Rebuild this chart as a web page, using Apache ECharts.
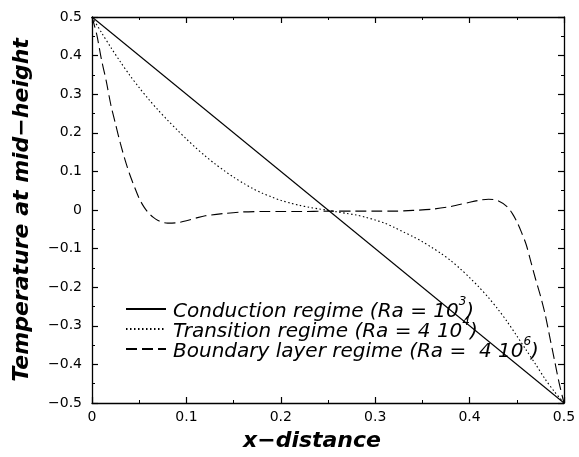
<!DOCTYPE html>
<html>
<head>
<meta charset="utf-8">
<script src="https://cdn.jsdelivr.net/npm/echarts@6/dist/echarts.min.js"></script>
<style>
html,body{margin:0;padding:0;background:#fff;}
#chart{width:579px;height:457px;}
</style>
</head>
<body>
<div id="chart"></div>
<script>
const seriesNames = [
  'Conduction regime (Ra = 10^3)',
  'Transition regime (Ra = 4 10^4)',
  'Boundary layer regime (Ra =  4 10^6)'
];
const legendRich = [
  '{m|Conduction regime (Ra = 10}{sup|3}{m|)}',
  '{m|Transition regime (Ra = 4 10}{sup|4}{m|)}',
  '{m|Boundary layer regime (Ra =  4 10}{sup|6}{m|)}'
];
const conductionX = [0, 0.5];
const conductionY = [0.5, -0.5];

const transitionX = [0, 0.01, 0.02, 0.03, 0.04, 0.05, 0.06, 0.07, 0.08, 0.09, 0.1, 0.11, 0.12, 0.13, 0.14, 0.15, 0.16, 0.17, 0.18, 0.19, 0.2, 0.21, 0.22, 0.23, 0.24, 0.25, 0.26, 0.27, 0.28, 0.29, 0.3, 0.31, 0.32, 0.33, 0.34, 0.35, 0.36, 0.37, 0.38, 0.39, 0.4, 0.41, 0.42, 0.43, 0.44, 0.45, 0.46, 0.47, 0.48, 0.49, 0.5];
const transitionY = [0.5, 0.46, 0.421, 0.384, 0.349, 0.317, 0.287, 0.259, 0.233, 0.208, 0.184, 0.161, 0.14, 0.12, 0.102, 0.085, 0.07, 0.056, 0.044, 0.034, 0.025, 0.018, 0.012, 0.007, 0.003, -0.001, -0.005, -0.009, -0.013, -0.019, -0.026, -0.034, -0.045, -0.057, -0.069, -0.082, -0.097, -0.113, -0.131, -0.152, -0.175, -0.2, -0.227, -0.257, -0.29, -0.326, -0.363, -0.4, -0.438, -0.471, -0.5];

const boundaryX = [0, 0.005, 0.01, 0.015, 0.02, 0.025, 0.03, 0.035, 0.04, 0.045, 0.05, 0.055, 0.06, 0.065, 0.07, 0.075, 0.08, 0.09, 0.1, 0.11, 0.12, 0.14, 0.16, 0.18, 0.2, 0.22, 0.25, 0.28, 0.3, 0.32, 0.34, 0.36, 0.38, 0.4, 0.41, 0.42, 0.43, 0.44, 0.445, 0.45, 0.455, 0.46, 0.465, 0.47, 0.475, 0.48, 0.485, 0.49, 0.495, 0.5];
const boundaryY = [0.5, 0.455, 0.39, 0.335, 0.272, 0.222, 0.173, 0.13, 0.092, 0.06, 0.03, 0.008, -0.008, -0.019, -0.027, -0.032, -0.034, -0.033, -0.028, -0.021, -0.015, -0.009, -0.005, -0.004, -0.004, -0.004, -0.003, -0.003, -0.003, -0.003, -0.001, 0.002, 0.009, 0.02, 0.025, 0.028, 0.024, 0.008, -0.008, -0.03, -0.058, -0.09, -0.135, -0.18, -0.222, -0.27, -0.33, -0.39, -0.45, -0.5];

const xTicks = [0, 0.1, 0.2, 0.3, 0.4, 0.5];
const yTicks = [-0.5, -0.4, -0.3, -0.2, -0.1, 0, 0.1, 0.2, 0.3, 0.4, 0.5];

function zip(xs, ys) { return xs.map((x, i) => [x, ys[i]]); }
function fmt(v) {
  if (Math.abs(v) < 1e-9) return '0';
  const s = Math.abs(v).toFixed(1);
  return v < 0 ? '\u2212' + s : s;
}

const FONT = 'DejaVu Sans';
const axisLineStyle = { color: '#000', width: 1.3 };
function mkX(pos, showLabel, name) {
  return {
    type: 'value', position: pos, min: xTicks[0], max: xTicks[xTicks.length - 1], interval: 0.1,
    axisLine: { show: true, onZero: false, lineStyle: axisLineStyle },
    axisTick: { show: true, inside: true, length: 6, lineStyle: { color: '#000', width: 1.2 } },
    minorTick: { show: true, splitNumber: 2, length: 3, lineStyle: { color: '#000', width: 1 } },
    splitLine: { show: false },
    axisLabel: { show: showLabel, formatter: fmt, color: '#000', fontFamily: FONT, fontSize: 14, margin: 7 },
    name: name || '', nameLocation: 'middle', nameGap: 27,
    nameTextStyle: { fontFamily: FONT, fontSize: 22, fontWeight: 'bold', fontStyle: 'italic', color: '#000', padding: [0, 32, 0, 0] }
  };
}
function mkY(pos, showLabel, name) {
  return {
    type: 'value', position: pos, min: yTicks[0], max: yTicks[yTicks.length - 1], interval: 0.1,
    axisLine: { show: true, onZero: false, lineStyle: axisLineStyle },
    axisTick: { show: true, inside: true, length: 6, lineStyle: { color: '#000', width: 1.2 } },
    minorTick: { show: true, splitNumber: 2, length: 3, lineStyle: { color: '#000', width: 1 } },
    splitLine: { show: false },
    axisLabel: { show: showLabel, formatter: fmt, color: '#000', fontFamily: FONT, fontSize: 14, margin: 10 },
    name: name || '', nameLocation: 'middle', nameGap: 59,
    nameTextStyle: { fontFamily: FONT, fontSize: 22, fontWeight: 'bold', fontStyle: 'italic', color: '#000' }
  };
}

const chart = echarts.init(document.getElementById('chart'), null, { renderer: 'canvas' });
chart.setOption({
  backgroundColor: '#fff',
  animation: false,
  grid: { left: 92, right: 15, top: 17, bottom: 47, containLabel: false },
  xAxis: [mkX('bottom', true, 'x\u2212distance'), mkX('top', false)],
  yAxis: [mkY('left', true, 'Temperature at mid\u2212height'), mkY('right', false)],
  legend: {
    orient: 'vertical', left: 120, top: 291, itemWidth: 40, itemHeight: 14, itemGap: -6,
    data: seriesNames,
    itemStyle: { opacity: 0 },
    formatter: n => legendRich[seriesNames.indexOf(n)],
    textStyle: {
      color: '#000', padding: [0, 0, 0, 2],
      rich: {
        m: { fontFamily: FONT, fontSize: 20, fontStyle: 'italic', color: '#000', lineHeight: 26, verticalAlign: 'bottom' },
        sup: { fontFamily: FONT, fontSize: 12, fontStyle: 'italic', color: '#000', lineHeight: 13, verticalAlign: 'top' }
      }
    }
  },
  series: [
    { name: seriesNames[0], type: 'line', data: zip(conductionX, conductionY), symbol: 'none', showSymbol: false,
      lineStyle: { color: '#000', width: 1.1, type: 'solid' }, itemStyle: { color: '#000' } },
    { name: seriesNames[1], type: 'line', data: zip(transitionX, transitionY), symbol: 'none', showSymbol: false, smooth: 0.3,
      lineStyle: { color: '#000', width: 1.1, type: [1.5, 2.5] }, itemStyle: { color: '#000' } },
    { name: seriesNames[2], type: 'line', data: zip(boundaryX, boundaryY), symbol: 'none', showSymbol: false, smooth: 0.3,
      lineStyle: { color: '#000', width: 1.1, type: [11, 5] }, itemStyle: { color: '#000' } }
  ]
});
</script>
</body>
</html>
